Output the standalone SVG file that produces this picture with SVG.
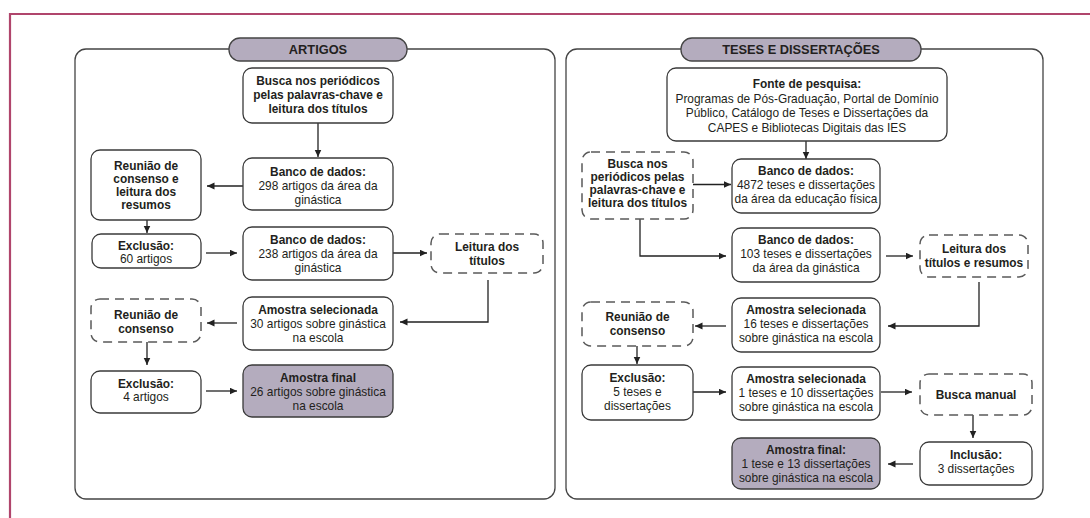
<svg xmlns="http://www.w3.org/2000/svg" width="1090" height="518" viewBox="0 0 1090 518">
<defs>
<marker id="ah" markerUnits="userSpaceOnUse" markerWidth="8" markerHeight="8" refX="7.5" refY="3.5" orient="auto">
<path d="M0,0 L7.5,3.5 L0,7 Z" fill="#222"/>
</marker>
</defs>
<style>
text{font-family:"Liberation Sans",Arial,sans-serif;font-size:11.9px;fill:#231f20;text-anchor:middle}
.b{font-weight:bold}
.t{font-weight:bold;font-size:12.8px}
.box{fill:#fff;stroke:#3a3a3a;stroke-width:1.3}
.dash{fill:#fff;stroke:#5a5a5a;stroke-width:1.5;stroke-dasharray:9 6}
.fin{fill:#b4acbe;stroke:#3a3a3a;stroke-width:1.3}
.panel{fill:#fff;stroke:#444;stroke-width:1.3}
.pill{fill:#b4acbe;stroke:#444;stroke-width:1.3}
.c{fill:none;stroke:#222;stroke-width:1.3;marker-end:url(#ah)}
</style>
<rect width="1090" height="518" fill="#fff"/>
<path d="M10,518 V14 H1090" fill="none" stroke="#b0456c" stroke-width="2.2"/>

<g id="panel-artigos">
<rect class="panel" x="75" y="49" width="480" height="450" rx="11"/>
<rect class="pill" x="229" y="38" width="178" height="23" rx="11"/>
<text class="t" x="318" y="54">ARTIGOS</text>
</g>
<g id="panel-teses">
<rect class="panel" x="566" y="49" width="477" height="450" rx="11"/>
<rect class="pill" x="681" y="38" width="240" height="23" rx="11"/>
<text class="t" x="801" y="54">TESES E DISSERTAÇÕES</text>
</g>

<g id="connectors">
<path class="c" d="M318,123 V157"/>
<path class="c" d="M243,186 H207"/>
<path class="c" d="M147,220 V233"/>
<path class="c" d="M206,253 H237"/>
<path class="c" d="M393,253 H427"/>
<path class="c" d="M488,280 V322 H400"/>
<path class="c" d="M237,323 H207"/>
<path class="c" d="M147,342 V365"/>
<path class="c" d="M206,391 H237"/>

<path class="c" d="M806,141 V159"/>
<path class="c" d="M693,184.5 H731"/>
<path class="c" d="M640,219 V256 H726"/>
<path class="c" d="M886,256 H913"/>
<path class="c" d="M979,282 V326 H888"/>
<path class="c" d="M726,326 H695"/>
<path class="c" d="M637,346 V364"/>
<path class="c" d="M693,392 H726"/>
<path class="c" d="M881,392 H912"/>
<path class="c" d="M973,415 V438"/>
<path class="c" d="M913,464 H888"/>
</g>

<g id="a-busca">
<rect class="box" x="243" y="68" width="150" height="55" rx="9"/>
<text class="b" x="318" y="85">Busca nos periódicos</text>
<text class="b" x="318" y="99">pelas palavras-chave e</text>
<text class="b" x="318" y="113">leitura dos títulos</text>
</g>
<g id="a-banco298">
<rect class="box" x="243" y="158" width="150" height="52" rx="9"/>
<text class="b" x="318" y="176">Banco de dados:</text>
<text x="318" y="190">298 artigos da área da</text>
<text x="318" y="204">ginástica</text>
</g>
<g id="a-reuniao1">
<rect class="box" x="91" y="150" width="110" height="70" rx="9"/>
<text class="b" x="146" y="169.5">Reunião de</text>
<text class="b" x="146" y="182.5">consenso e</text>
<text class="b" x="146" y="195.5">leitura dos</text>
<text class="b" x="146" y="208.5">resumos</text>
</g>
<g id="a-exclusao60">
<rect class="box" x="92" y="234" width="109" height="34" rx="9"/>
<text class="b" x="146" y="250">Exclusão:</text>
<text x="146" y="263">60 artigos</text>
</g>
<g id="a-banco238">
<rect class="box" x="243" y="227" width="150" height="53" rx="9"/>
<text class="b" x="318" y="243.5">Banco de dados:</text>
<text x="318" y="257.5">238 artigos da área da</text>
<text x="318" y="271.5">ginástica</text>
</g>
<g id="a-leitura">
<rect class="dash" x="431" y="234" width="112" height="39" rx="9"/>
<text class="b" x="487" y="251">Leitura dos</text>
<text class="b" x="487" y="264.5">títulos</text>
</g>
<g id="a-amostra30">
<rect class="box" x="243" y="297" width="150" height="53" rx="9"/>
<text class="b" x="318" y="313.5">Amostra selecionada</text>
<text x="318" y="327.5">30 artigos sobre ginástica</text>
<text x="318" y="341.5">na escola</text>
</g>
<g id="a-reuniao2">
<rect class="dash" x="91" y="299" width="110" height="43" rx="9"/>
<text class="b" x="146" y="319">Reunião de</text>
<text class="b" x="146" y="332.5">consenso</text>
</g>
<g id="a-exclusao4">
<rect class="box" x="91" y="371" width="110" height="42" rx="9"/>
<text class="b" x="146" y="387.5">Exclusão:</text>
<text x="146" y="401">4 artigos</text>
</g>
<g id="a-final">
<rect class="fin" x="243" y="365" width="150" height="52" rx="9"/>
<text class="b" x="318" y="382">Amostra final</text>
<text x="318" y="396">26 artigos sobre ginástica</text>
<text x="318" y="410">na escola</text>
</g>

<g id="t-fonte">
<rect class="box" x="667" y="68" width="280" height="73" rx="9"/>
<text class="b" x="807" y="88">Fonte de pesquisa:</text>
<text x="807" y="102.5">Programas de Pós-Graduação, Portal de Domínio</text>
<text x="807" y="117">Público, Catálogo de Teses e Dissertações da</text>
<text x="807" y="131.5">CAPES e Bibliotecas Digitais das IES</text>
</g>
<g id="t-busca">
<rect class="dash" x="582" y="152" width="111" height="67" rx="9"/>
<text class="b" x="637.5" y="168">Busca nos</text>
<text class="b" x="637.5" y="181">periódicos pelas</text>
<text class="b" x="637.5" y="194">palavras-chave e</text>
<text class="b" x="637.5" y="207">leitura dos títulos</text>
</g>
<g id="t-banco4872">
<rect class="box" x="732" y="159" width="148" height="54" rx="9"/>
<text class="b" x="806" y="175">Banco de dados:</text>
<text x="806" y="189">4872 teses e dissertações</text>
<text x="806" y="203">da área da educação física</text>
</g>
<g id="t-banco103">
<rect class="box" x="732" y="228" width="148" height="54" rx="9"/>
<text class="b" x="806" y="244">Banco de dados:</text>
<text x="806" y="258">103 teses e dissertações</text>
<text x="806" y="272">da área da ginástica</text>
</g>
<g id="t-leitura">
<rect class="dash" x="920" y="235" width="108" height="42" rx="9"/>
<text class="b" x="974" y="252.5">Leitura dos</text>
<text class="b" x="974" y="266.5">títulos e resumos</text>
</g>
<g id="t-amostra16">
<rect class="box" x="732" y="298" width="148" height="54" rx="9"/>
<text class="b" x="806" y="314">Amostra selecionada</text>
<text x="806" y="328">16 teses e dissertações</text>
<text x="806" y="342">sobre ginástica na escola</text>
</g>
<g id="t-reuniao">
<rect class="dash" x="582" y="302" width="111" height="44" rx="9"/>
<text class="b" x="637.5" y="321">Reunião de</text>
<text class="b" x="637.5" y="335">consenso</text>
</g>
<g id="t-exclusao5">
<rect class="box" x="582" y="365" width="111" height="55" rx="9"/>
<text class="b" x="637.5" y="382">Exclusão:</text>
<text x="637.5" y="396">5 teses e</text>
<text x="637.5" y="410">dissertações</text>
</g>
<g id="t-amostra1">
<rect class="box" x="732" y="367" width="148" height="53" rx="9"/>
<text class="b" x="806" y="383">Amostra selecionada</text>
<text x="806" y="397">1 teses e 10 dissertações</text>
<text x="806" y="411">sobre ginástica na escola</text>
</g>
<g id="t-buscamanual">
<rect class="dash" x="920" y="374" width="112" height="41" rx="9"/>
<text class="b" x="976" y="398.5">Busca manual</text>
</g>
<g id="t-inclusao">
<rect class="box" x="920" y="442" width="112" height="43" rx="9"/>
<text class="b" x="976" y="459">Inclusão:</text>
<text x="976" y="473">3 dissertações</text>
</g>
<g id="t-final">
<rect class="fin" x="732" y="438" width="148" height="51" rx="9"/>
<text class="b" x="806" y="454">Amostra final:</text>
<text x="806" y="468">1 tese e 13 dissertações</text>
<text x="806" y="482">sobre ginástica na escola</text>
</g>
</svg>
